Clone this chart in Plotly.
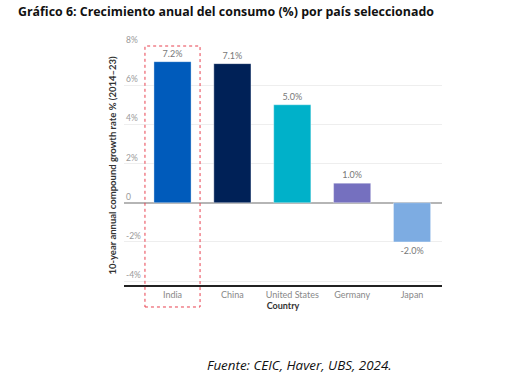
import plotly.graph_objects as go

countries = ["India", "China", "United States", "Germany", "Japan"]
growth = [7.2, 7.1, 5.0, 1.0, -2.0]
bar_colors = ["#005bbb", "#002157", "#00b1c9", "#7570bf", "#7dace2"]
y_ticks = [-4, -2, 0, 2, 4, 6, 8]
y_tick_labels = ["-4%", "-2%", "0", "2%", "4%", "6%", "8%"]

fig = go.Figure()
fig.add_trace(go.Bar(
    x=countries, y=growth,
    marker=dict(color=bar_colors, line=dict(color="rgba(255,255,255,0.6)", width=0.6)),
    text=[f"{v:.1f}%" for v in growth],
    textposition="outside",
    textfont=dict(family="Lato", size=9, color="#777777"),
    cliponaxis=False,
    width=0.62,
))

fig.add_shape(type="rect", xref="x", yref="paper",
              x0=-0.46, x1=0.46, y0=-0.092, y1=1.0,
              line=dict(color="#e8404f", width=1, dash="dot"))

fig.update_layout(
    width=518, height=387,
    margin=dict(l=124, r=76, t=46, b=102),
    paper_bgcolor="white", plot_bgcolor="white",
    showlegend=False,
    font=dict(family="Lato", color="#888888"),
    xaxis=dict(
        range=[-0.81, 4.5], automargin=False,
        showline=True, linecolor="#222222", linewidth=1.5,
        ticks="", tickfont=dict(family="Lato", size=9, color="#888888"),
        title=dict(text="<b>Country</b>", font=dict(family="Lato", size=9, color="#333333"), standoff=4),
    ),
    yaxis=dict(
        range=[-4.2, 8], automargin=False,
        tickvals=y_ticks, showticklabels=False,
        gridcolor="#eeeeee", gridwidth=1,
        zeroline=True, zerolinecolor="#b5b5b5", zerolinewidth=1.5,
        showline=False,
        title=dict(text="<b>10-year annual compound growth rate % (2014–23)</b>",
                   font=dict(family="Lato", size=9.5, color="#333333"), standoff=4),
    ),
)

for v, lab in zip(y_ticks, y_tick_labels):
    fig.add_annotation(text=lab, xref="paper", yref="y", x=0, y=v, yshift=6,
                       xanchor="left", yanchor="middle", showarrow=False,
                       font=dict(family="Lato", size=8.5, color="#999999"))

fig.add_annotation(text="<b>Gráfico 6: Crecimiento anual del consumo (%) por país seleccionado</b>",
                   xref="paper", yref="paper", x=(16-124)/318, y=1 + (46-12)/239,
                   xanchor="left", yanchor="middle", showarrow=False,
                   font=dict(family="Open Sans", size=12.4, color="#111111"))
fig.add_annotation(text="<i>Fuente: CEIC, Haver, UBS, 2024.</i>",
                   xref="paper", yref="paper", x=(205-124)/318, y=-(365-285)/239,
                   xanchor="left", yanchor="middle", showarrow=False,
                   font=dict(family="Open Sans", size=13.4, color="#111111"))

fig.write_html("out.html", config={"displayModeBar": False},
               post_script="document.body.style.margin='0';")
